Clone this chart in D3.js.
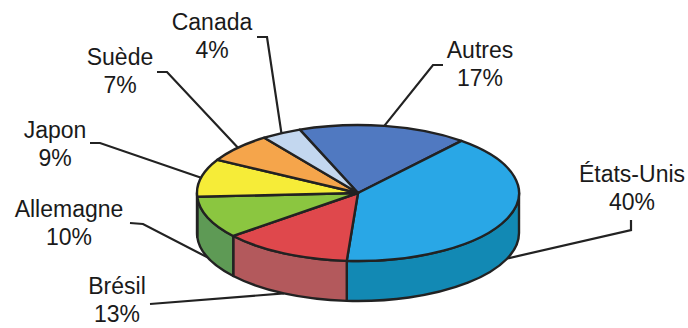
<!DOCTYPE html>
<html>
<head>
<meta charset="utf-8">
<script src="https://cdn.jsdelivr.net/npm/d3@7"></script>
<style>
  html, body { margin: 0; padding: 0; background: #ffffff; }
  svg { display: block; }
  text { font-family: "Liberation Sans", Arial, sans-serif; font-size: 23px; fill: #1a1a1a; }
</style>
</head>
<body>
<svg id="chart" width="688" height="328"></svg>
<script>
// Shares by country, clockwise from the top of the pie
const categories = ["Autres", "États-Unis", "Brésil", "Allemagne", "Japon", "Suède", "Canada"];
const shares = [17, 40, 13, 10, 9, 7, 4];
const percentLabels = ["17%", "40%", "13%", "10%", "9%", "7%", "4%"];

// Fill colours: top face and side wall
const topColors = ["#5079c1", "#29a7e6", "#df484c", "#8bc640", "#f6ec38", "#f5a54b", "#c3d7ef"];
const sideColors = ["#3d5f9a", "#1289b4", "#b3595c", "#5e9a55", "#c9bf2a", "#c8853a", "#9db0c8"];

// Label placement: text centre, first baseline, and leader elbow
const labelLayout = {
  "Autres":     { x: 480, y: 58,  elbow: [[443, 65], [433, 65]] },
  "États-Unis": { x: 632, y: 182, elbow: [[631, 220], [631, 230]] },
  "Brésil":     { x: 117, y: 294, elbow: [[150, 304]] },
  "Allemagne":  { x: 69,  y: 217, elbow: [[130, 223], [143, 224]] },
  "Japon":      { x: 55,  y: 138, elbow: [[90, 143], [100, 143]] },
  "Suède":      { x: 120, y: 65,  elbow: [[157, 72], [167, 72]] },
  "Canada":     { x: 212, y: 30,  elbow: [[257, 37], [267, 37]] }
};

const svg = d3.select("#chart");
const cx = 358, cy = 193, rx = 161, ry = 68, depth = 40;
const startAngle = -21.2 * Math.PI / 180;

const pie = d3.pie().sort(null).value(d => d.value)
  .startAngle(startAngle).endAngle(startAngle + 2 * Math.PI);

const data = categories.map((c, i) => ({ name: c, value: shares[i], pct: percentLabels[i], top: topColors[i], side: sideColors[i] }));
const arcs = pie(data);

// point on the ellipse rim; angle measured clockwise from 12 o'clock
const rim = (a, dy = 0) => [cx + rx * Math.sin(a), cy - ry * Math.cos(a) + dy];

function topPath(d) {
  const p0 = rim(d.startAngle), p1 = rim(d.endAngle);
  const large = (d.endAngle - d.startAngle) > Math.PI ? 1 : 0;
  return `M${cx},${cy}L${p0[0]},${p0[1]}A${rx},${ry} 0 ${large} 1 ${p1[0]},${p1[1]}Z`;
}

// the visible wall runs from 3 o'clock (π/2) through 6 o'clock to 9 o'clock (3π/2)
function sidePath(d) {
  const norm = a => { let t = a % (2 * Math.PI); if (t < 0) t += 2 * Math.PI; return t; };
  let a0 = norm(d.startAngle);
  let a1 = a0 + (d.endAngle - d.startAngle);
  const lo = Math.max(a0, Math.PI / 2), hi = Math.min(a1, 3 * Math.PI / 2);
  if (hi <= lo) return null;
  const t0 = rim(lo), t1 = rim(hi), b1 = rim(hi, depth), b0 = rim(lo, depth);
  return `M${t0[0]},${t0[1]}A${rx},${ry} 0 0 1 ${t1[0]},${t1[1]}L${b1[0]},${b1[1]}A${rx},${ry} 0 0 0 ${b0[0]},${b0[1]}Z`;
}

const stroke = "#222";

// leader lines underneath the pie
const lines = svg.append("g");
arcs.forEach(d => {
  const L = labelLayout[d.data.name];
  const mid = (d.startAngle + d.endAngle) / 2;
  const front = Math.cos(mid) < 0;
  const end = rim(mid, front ? depth : 0);
  const pts = L.elbow.concat([end]);
  lines.append("path")
    .attr("d", d3.line()(pts))
    .attr("fill", "none")
    .attr("stroke", stroke)
    .attr("stroke-width", 2.2);
});

const walls = svg.append("g");
arcs.forEach(d => {
  const p = sidePath(d);
  if (p) walls.append("path").attr("d", p)
    .attr("fill", d.data.side).attr("stroke", stroke)
    .attr("stroke-width", 2.4).attr("stroke-linejoin", "round");
});

svg.append("g").selectAll("path").data(arcs).join("path")
  .attr("d", topPath)
  .attr("fill", d => d.data.top)
  .attr("stroke", stroke)
  .attr("stroke-width", 2.4)
  .attr("stroke-linejoin", "round");

// category and percentage labels
const labels = svg.append("g");
arcs.forEach(d => {
  const L = labelLayout[d.data.name];
  const t = labels.append("text").attr("text-anchor", "middle");
  t.append("tspan").attr("x", L.x).attr("y", L.y).text(d.data.name);
  t.append("tspan").attr("x", L.x).attr("y", L.y + 28).text(d.data.pct);
});
</script>
</body>
</html>
